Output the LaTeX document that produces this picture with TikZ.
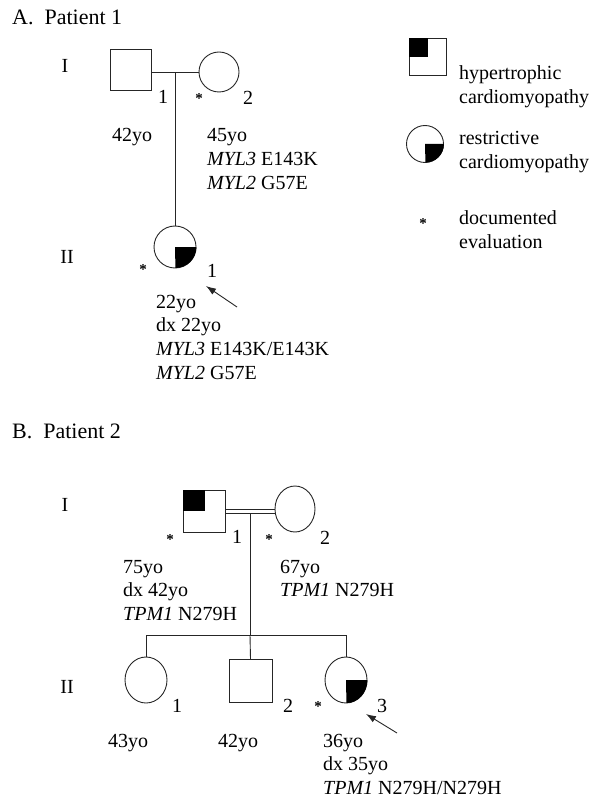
\documentclass[tikz,border=0pt]{standalone}
\usepackage{fontspec}
\setmainfont{Liberation Serif}
\usetikzlibrary{shapes.geometric,arrows.meta}
\newcommand{\lines}[1]{\begin{tabular}[t]{@{}l@{}}#1\end{tabular}}
\tikzset{
  ln/.style={line width=0.9pt,draw=black!85},
  male/.style={rectangle,ln,inner sep=0pt,minimum size=#1},
  female/.style={ellipse,ln,inner sep=0pt},
  txt/.style={anchor=base west,inner sep=0pt,font=\fontsize{20}{23.7}\selectfont},
  num/.style={anchor=base,inner sep=0pt,font=\fontsize{20}{23.7}\selectfont},
  ttl/.style={anchor=base west,inner sep=0pt,font=\fontsize{22}{26}\selectfont},
  star/.style={anchor=base,inner sep=0pt,font=\fontsize{15}{15}\selectfont\bfseries,yshift=-6pt},
  proband/.style={ln,-{Latex[length=10pt,width=7pt]}},
}
\begin{document}
\begin{tikzpicture}[x=1pt,y=-1pt]
\useasboundingbox (0,0) rectangle (592,802);
% ===== Patient 1 =====
\node[ttl] (tA) at (12,25) {A.\ \ Patient 1};
\node[num] (gA1) at (65,73) {I};
\node[num] (gA2) at (67,263) {II};
\node[male=41pt] (a1) at (130.5,69.5) {};
\node[female,minimum width=40pt,minimum height=40pt] (a2) at (219,72) {};
\coordinate (am) at (175.7,72.7);
\draw[ln] (a1.east |- am) -- (a2.west |- am);
\node[female,minimum width=42pt,minimum height=42pt] (a3) at (175,247) {};
\draw[ln] (am) -- (am |- a3.north);
\fill (a3.center) -- (a3.east) arc[start angle=0,end angle=90,x radius=21,y radius=21] -- cycle;
\node[num] (a1n) at (163,104) {1};
\node[star] (a2s) at (199,98) {*};
\node[num] (a2n) at (248,105) {2};
\node[txt] (a1t) at (112,142) {42yo};
\node[txt] (a2t) at (207,142) {\lines{45yo\\\textit{MYL3} E143K\\\textit{MYL2} G57E}};
\node[star] (a3s) at (143,268) {*};
\node[num] (a3n) at (212,277) {1};
\coordinate (a3arr) at (237,307);
\coordinate (a3tip) at (206,286);
\draw[proband] (a3arr) -- (a3tip);
\node[txt] (a3t) at (156,308) {\lines{22yo\\dx 22yo\\\textit{MYL3} E143K/E143K\\\textit{MYL2} G57E}};
% ===== Legend =====
\node[male=37pt] (l1) at (427.5,57) {};
\fill (l1.north west) rectangle (l1.center);
\node[txt] (l1t) at (459,80) {\lines{hypertrophic\\cardiomyopathy}};
\node[female,minimum width=37pt,minimum height=37pt] (l2) at (425,144) {};
\fill (l2.center) -- (l2.east) arc[start angle=0,end angle=90,x radius=18.5,y radius=18.5] -- cycle;
\node[txt] (l2t) at (459,145) {\lines{restrictive\\cardiomyopathy}};
\node[star] (l3) at (423,223) {*};
\node[txt] (l3t) at (459,225) {\lines{documented\\evaluation}};
% ===== Patient 2 =====
\node[ttl] (tB) at (12,438) {B.\ \ Patient 2};
\node[num] (gB1) at (65,511) {I};
\node[num] (gB2) at (67,693) {II};
\node[male=42pt] (b1) at (204.5,511) {};
\fill (b1.north west) rectangle (b1.center);
\node[female,minimum width=40pt,minimum height=46pt] (b2) at (295,509) {};
\coordinate (bm) at (250,513);
\draw[ln] ([yshift=2pt]b1.east) -- ([yshift=2pt]b1.east -| b2.west);
\draw[ln] ([yshift=-2pt]b1.east) -- ([yshift=-2pt]b1.east -| b2.west);
\coordinate (bs) at (250,635);
\draw[ln] (bm) -- (bs);
\node[star] (b1s) at (170,538) {*};
\node[num] (b1n) at (237,543) {1};
\node[star] (b2s) at (269,538) {*};
\node[num] (b2n) at (325,544) {2};
\node[txt] (b1t) at (123,573) {\lines{75yo\\dx 42yo\\\textit{TPM1} N279H}};
\node[txt] (b2t) at (280,573) {\lines{67yo\\\textit{TPM1} N279H}};
\node[female,minimum width=42pt,minimum height=46pt] (c1) at (146,680) {};
\node[male=43pt] (c2) at (250.5,681) {};
\node[female,minimum width=42pt,minimum height=46pt] (c3) at (346,680) {};
\fill (c3.center) -- (c3.east) arc[start angle=0,end angle=90,x radius=21,y radius=23] -- cycle;
\draw[ln] (c1.north) -- (c1.north |- bs) -- (c3.north |- bs) -- (c3.north);
\draw[ln] (bs) -- (c2.north);
\node[num] (c1n) at (177,712) {1};
\node[num] (c2n) at (288,712) {2};
\node[star] (c3s) at (318,705) {*};
\node[num] (c3n) at (382,712) {3};
\coordinate (c3arr) at (397,733);
\coordinate (c3tip) at (366,714);
\draw[proband] (c3arr) -- (c3tip);
\node[txt] (c1t) at (108,747) {43yo};
\node[txt] (c2t) at (218,747) {42yo};
\node[txt] (c3t) at (323,747) {\lines{36yo\\dx 35yo\\\textit{TPM1} N279H/N279H}};
\end{tikzpicture}
\end{document}
